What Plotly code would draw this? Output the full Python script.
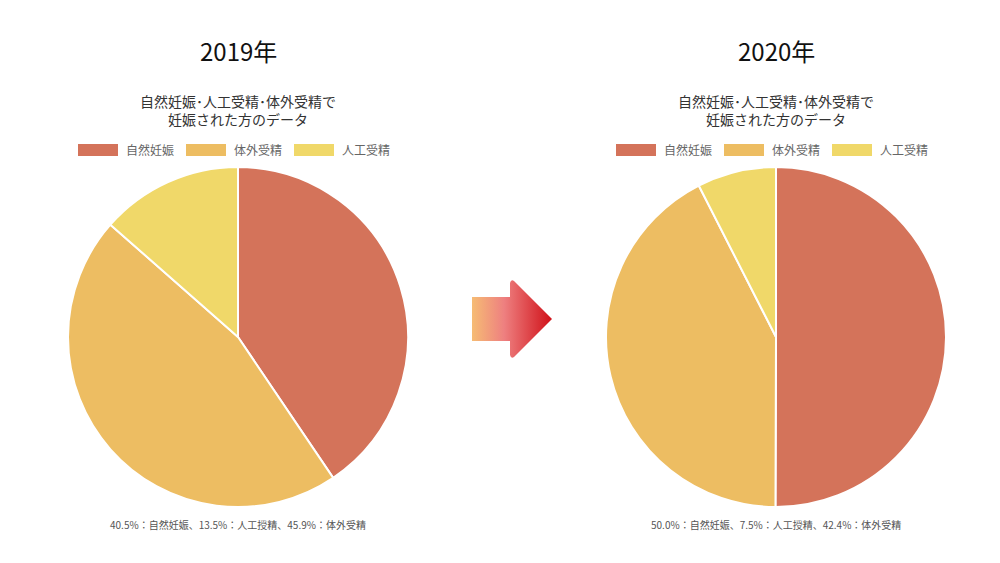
import base64
import plotly.graph_objects as go

labels = ["自然妊娠", "体外受精", "人工受精"]
colors = ["#D4735A", "#EDBD62", "#F0D869"]
years = ["2019年", "2020年"]
values_2019 = [40.5, 45.9, 13.5]
values_2020 = [50.0, 42.4, 7.5]
notes = ["40.5%：自然妊娠、13.5%：人工授精、45.9%：体外受精",
         "50.0%：自然妊娠、7.5%：人工授精、42.4%：体外受精"]

# page has an 8px body margin, so the figure is drawn a bit smaller and offset
OFF = 8
W, H = 1000 - 2 * OFF, 563 - 2 * OFF
FONT = "Noto Sans CJK JP"


def px(x):
    return (x - OFF) / W


def py(y):
    return 1 - (y - OFF) / H


fig = go.Figure()
centers = [238, 776]
for cx, vals in zip(centers, [values_2019, values_2020]):
    fig.add_trace(go.Pie(
        labels=labels, values=vals, sort=False, direction="clockwise", rotation=0,
        marker=dict(colors=colors, line=dict(color="white", width=2)),
        textinfo="none", hoverinfo="label+percent", showlegend=False,
        domain=dict(x=[px(cx - 170), px(cx + 170)], y=[py(507), py(167)]),
    ))

shapes = []
ann = []
for cx, year, note in zip(centers, years, notes):
    ann.append(dict(x=px(cx), y=py(50), text=year, showarrow=False, xanchor="center", yanchor="middle",
                    font=dict(size=24, color="#111", family=FONT)))
    ann.append(dict(x=px(cx), y=py(110), text="自然妊娠･人工受精･体外受精で<br>妊娠された方のデータ",
                    showarrow=False, xanchor="center", yanchor="middle",
                    font=dict(size=14, color="#333", family=FONT)))
    ann.append(dict(x=px(cx), y=py(524), text=note, showarrow=False, xanchor="center", yanchor="middle",
                    font=dict(size=10, color="#555", family=FONT)))
    x0 = cx - 160
    for i, (lab, col) in enumerate(zip(labels, colors)):
        sx = x0 + i * 108
        shapes.append(dict(type="rect", xref="paper", yref="paper",
                           x0=px(sx), x1=px(sx + 40), y0=py(156), y1=py(144),
                           fillcolor=col, line=dict(width=0)))
        ann.append(dict(x=px(sx + 46), y=py(150), text=lab, showarrow=False,
                        xanchor="left", yanchor="middle",
                        font=dict(size=12, color="#666", family=FONT)))

svg = ('<svg xmlns="http://www.w3.org/2000/svg" viewBox="0 0 84 80">'
       '<defs><linearGradient id="g" x1="0" x2="1" y1="0" y2="0">'
       '<stop offset="0" stop-color="#F6BC74"/><stop offset="0.4" stop-color="#EE8080"/>'
       '<stop offset="1" stop-color="#D01018"/></linearGradient></defs>'
       '<path d="M2 18 L40 18 L40 4 Q41 0 44 2 L82 40 L44 78 Q41 80 40 76 L40 62 L2 62 Z" fill="url(#g)"/></svg>')
img = "data:image/svg+xml;base64," + base64.b64encode(svg.encode()).decode()

fig.update_layout(
    width=W, height=H, margin=dict(l=0, r=0, t=0, b=0),
    paper_bgcolor="white", plot_bgcolor="white",
    shapes=shapes, annotations=ann,
    images=[dict(source=img, xref="paper", yref="paper", x=px(470), y=py(279),
                 sizex=84 / W, sizey=80 / H, xanchor="left", yanchor="top", sizing="stretch", layer="above")],
)
fig.write_html("out.html")
